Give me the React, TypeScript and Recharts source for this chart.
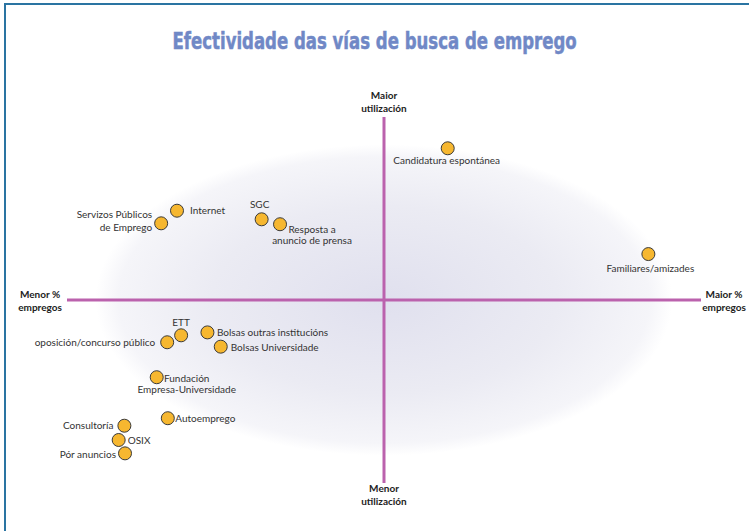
import { ScatterChart, Scatter, XAxis, YAxis, ReferenceLine, ReferenceArea } from 'recharts'

// vías de busca: x = % empregos (menor -> maior), y = utilización (menor -> maior)
const vias = [
  'Candidatura espontánea',
  'Familiares/amizades',
  'Internet',
  'Servizos Públicos de Emprego',
  'SGC',
  'Resposta a anuncio de prensa',
  'ETT',
  'oposición/concurso público',
  'Bolsas outras institucións',
  'Bolsas Universidade',
  'Fundación Empresa-Universidade',
  'Autoemprego',
  'Consultoría',
  'OSIX',
  'Pór anuncios',
]
const empregos = [20.1, 83.4, -65.3, -70.3, -38.6, -32.8, -64.0, -68.4, -55.7, -51.5, -71.7, -68.2, -81.9, -83.7, -81.7]
const utilizacion = [82.9, 25.1, 48.8, 41.9, 44.1, 41.4, -19.3, -23.1, -17.7, -25.5, -42.2, -64.6, -68.7, -76.5, -83.8]

const dados = vias.map((nome, i) => ({ nome, x: empregos[i], y: utilizacion[i] }))

// colocación das etiquetas (px, relativo ao punto)
type Etiqueta = { anchor: 'start' | 'middle' | 'end'; dx: number; dy: number[]; linhas: string[] }
const etiquetas: Record<string, Etiqueta> = {
  'Candidatura espontánea': { anchor: 'middle', dx: -1, dy: [12], linhas: ['Candidatura espontánea'] },
  'Familiares/amizades': { anchor: 'middle', dx: 2, dy: [14], linhas: ['Familiares/amizades'] },
  Internet: { anchor: 'start', dx: 13, dy: [-1], linhas: ['Internet'] },
  'Servizos Públicos de Emprego': { anchor: 'end', dx: -9, dy: [-9, 4], linhas: ['Servizos Públicos', 'de Emprego'] },
  SGC: { anchor: 'middle', dx: -2, dy: [-15], linhas: ['SGC'] },
  'Resposta a anuncio de prensa': { anchor: 'middle', dx: 32, dy: [5, 15.5], linhas: ['Resposta a', 'anuncio de prensa'] },
  ETT: { anchor: 'middle', dx: 0, dy: [-13], linhas: ['ETT'] },
  'oposición/concurso público': { anchor: 'end', dx: -12, dy: [-0.5], linhas: ['oposición/concurso público'] },
  'Bolsas outras institucións': { anchor: 'start', dx: 9.5, dy: [0], linhas: ['Bolsas outras institucións'] },
  'Bolsas Universidade': { anchor: 'start', dx: 10, dy: [0], linhas: ['Bolsas Universidade'] },
  'Fundación Empresa-Universidade': { anchor: 'middle', dx: 30, dy: [0.5, 12], linhas: ['Fundación', 'Empresa-Universidade'] },
  Autoemprego: { anchor: 'start', dx: 7.5, dy: [0], linhas: ['Autoemprego'] },
  Consultoría: { anchor: 'end', dx: -11, dy: [-0.5], linhas: ['Consultoría'] },
  OSIX: { anchor: 'start', dx: 9, dy: [0], linhas: ['OSIX'] },
  'Pór anuncios': { anchor: 'end', dx: -9, dy: [0.5], linhas: ['Pór anuncios'] },
}

const fonte = 'Lato, "Open Sans", sans-serif'

function Ponto(props: any) {
  const { cx, cy, payload } = props
  const et = etiquetas[payload.nome]
  return (
    <g>
      <circle cx={cx} cy={cy} r={6.5} fill="#f6b730" stroke="#3a3a3a" strokeWidth={1} />
      {et.linhas.map((l, i) => (
        <text
          key={l}
          x={cx + et.dx}
          y={cy + et.dy[i]}
          textAnchor={et.anchor}
          dominantBaseline="central"
          fill="#333"
          fontSize={10}
          fontFamily={fonte}
        >
          {l}
        </text>
      ))}
    </g>
  )
}

function Elipse(props: any) {
  const { x, y, width, height } = props
  return (
    <g>
      <defs>
        <radialGradient id="fondo" cx="50%" cy="50%" r="50%">
          <stop offset="0%" stopColor="#e0e0ee" />
          <stop offset="60%" stopColor="#ebebf3" />
          <stop offset="92%" stopColor="#f5f5f9" />
          <stop offset="100%" stopColor="#ffffff" />
        </radialGradient>
      </defs>
      <ellipse cx={x + width / 2} cy={y + height / 2} rx={width / 2} ry={height / 2} fill="url(#fondo)" />
    </g>
  )
}

const eixo: React.CSSProperties = {
  position: 'absolute',
  fontFamily: fonte,
  fontWeight: 700,
  fontSize: 10,
  lineHeight: '12.5px',
  color: '#222',
  textAlign: 'center',
  width: 80,
}

export default function App() {
  return (
    <div style={{ position: 'fixed', left: 0, top: 0, width: 749, height: 531, background: '#fff', overflow: 'hidden' }}>
      <div
        style={{
          position: 'absolute',
          left: 4,
          top: 3,
          width: 760,
          height: 560,
          borderLeft: '2px solid #2a74a2',
          borderTop: '2px solid #2a74a2',
        }}
      />
      <div
        style={{
          position: 'absolute',
          left: 0,
          width: 749,
          top: 28,
          textAlign: 'center',
          fontFamily: '"Liberation Sans Narrow", "DejaVu Sans Condensed", sans-serif',
          fontWeight: 700,
          fontSize: 23,
          color: '#7088c6',
          WebkitTextStroke: '0.5px #7088c6',
          transform: 'scaleX(0.8)',
          transformOrigin: '375px 0',
          whiteSpace: 'nowrap',
        }}
      >
        Efectividade das vías de busca de emprego
      </div>
      <div style={{ position: 'absolute', left: 0, top: 0 }}>
        <ScatterChart width={749} height={531} margin={{ top: 117, right: 48, bottom: 48, left: 67 }}>
          <XAxis type="number" dataKey="x" domain={[-100, 100]} hide />
          <YAxis type="number" dataKey="y" domain={[-100, 100]} hide />
          <ReferenceArea x1={-91} x2={91} y1={-85} y2={85} shape={<Elipse />} />
          <ReferenceLine x={0} stroke="#bb62ad" strokeWidth={3} />
          <ReferenceLine y={0} stroke="#bb62ad" strokeWidth={3} />
          <Scatter data={dados} shape={<Ponto />} isAnimationActive={false} />
        </ScatterChart>
      </div>
      <div style={{ ...eixo, left: 344, top: 89 }}>Maior<br />utilización</div>
      <div style={{ ...eixo, left: 344, top: 482 }}>Menor<br />utilización</div>
      <div style={{ ...eixo, left: 0, top: 288 }}>Menor %<br />empregos</div>
      <div style={{ ...eixo, left: 684, top: 288 }}>Maior %<br />empregos</div>
    </div>
  )
}
